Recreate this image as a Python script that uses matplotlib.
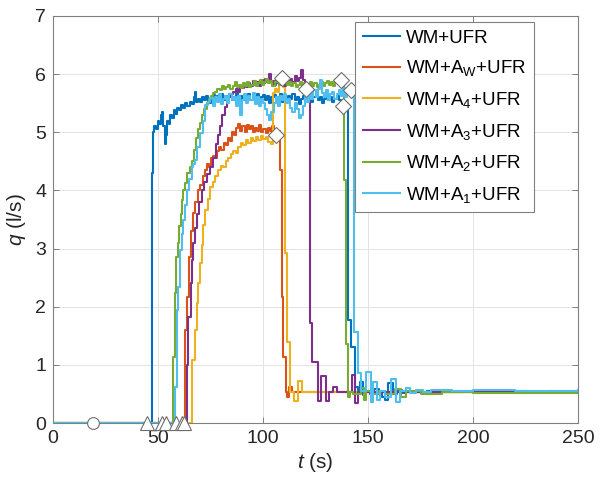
import matplotlib
matplotlib.use("Agg")
import matplotlib.pyplot as plt

plt.rcParams["font.family"] = ["Liberation Sans", "DejaVu Sans"]
plt.rcParams["mathtext.fontset"] = "custom"
plt.rcParams["mathtext.rm"] = "Liberation Sans"
plt.rcParams["mathtext.it"] = "Liberation Sans:italic"

# -------------------------
# flow traces q(t), one per configuration
# -------------------------

labels = ["WM+UFR", r"WM+A$_\mathrm{W}$+UFR", r"WM+A$_\mathrm{4}$+UFR",
          r"WM+A$_\mathrm{3}$+UFR", r"WM+A$_\mathrm{2}$+UFR", r"WM+A$_\mathrm{1}$+UFR"]
colors = ["#0072BD", "#D95319", "#EDB120", "#7E2F8E", "#77AC30", "#4DBEEE"]

t_wm = [0, 47.0, 47.5, 48.2, 49.0, 49.8, 50.6, 51.3, 52.0, 52.6, 53.1, 53.7, 54.3, 55.0, 55.8,
        56.6, 57.4, 58.2, 59, 60, 61, 62, 63, 64, 65, 66, 67, 67.6, 68.2, 69, 70, 71, 72, 73,
        74, 75, 76, 77, 78, 79, 80, 81, 82, 83, 84, 85, 86, 87, 88, 89, 90, 91, 92, 93, 94, 95,
        96, 97, 98, 99, 100, 101, 102, 103, 104, 105, 106, 107, 108, 109, 110, 111, 112, 113,
        114, 115, 116, 117, 118, 119, 120, 121, 122, 123, 124, 125, 126, 127, 128, 129, 130,
        131, 132, 133, 134, 135, 136, 137, 138, 139, 140, 140.6, 141.8, 144.0, 145.0, 146.2,
        147.6, 149, 151, 153, 155, 156.5, 158, 159.5, 162, 164, 166, 168, 172, 178, 185, 195,
        205, 215, 225, 235, 250]
q_wm = [0, 4.3, 5.0, 5.1, 5.05, 5.2, 5.15, 5.3, 5.35, 5.1, 4.8, 4.95, 5.2, 5.15, 5.3,
        5.25, 5.38, 5.32, 5.42, 5.38, 5.47, 5.42, 5.5, 5.45, 5.52, 5.48, 5.6, 5.7, 5.52, 5.58,
        5.52, 5.6, 5.55, 5.62, 5.5, 5.58, 5.64, 5.55, 5.62, 5.58, 5.66, 5.56, 5.62, 5.58, 5.65,
        5.55, 5.6, 5.68, 5.57, 5.62, 5.55, 5.63, 5.6, 5.66, 5.56, 5.62, 5.58, 5.65, 5.55, 5.6,
        5.64, 5.56, 5.62, 5.5, 5.6, 5.64, 5.55, 5.6, 5.66, 5.52, 5.6, 5.56, 5.63, 5.58, 5.65,
        5.55, 5.6, 5.48, 5.58, 5.62, 5.55, 5.64, 5.58, 5.52, 5.6, 5.65, 5.55, 5.6, 5.5, 5.58,
        5.63, 5.55, 5.6, 5.52, 5.58, 5.62, 5.55, 5.48, 5.45, 5.5, 5.42, 1.77, 1.31, 0.62, 0.5,
        0.70, 0.48, 0.55, 0.5, 0.58, 0.52, 0.45, 0.40, 0.69, 0.5, 0.56, 0.52, 0.55, 0.53, 0.55,
        0.54, 0.55, 0.54, 0.55, 0.54, 0.55, 0.55]

t_aw = [0, 62.9, 64.0, 64.8, 65.8, 66.8, 67.8, 69.2, 70.2, 71.2, 72.2, 73.2, 74.2, 75.2, 76.2,
        77.2, 78.2, 79.2, 80.2, 81.2, 82.2, 83.2, 84.2, 85.2, 86.2, 87.2, 88.2, 89.2, 90.2, 91.2,
        92.2, 93.2, 94.2, 95.2, 96.2, 97.2, 98.2, 99.2, 100.2, 101.2, 102.2, 103.2, 104.2, 105.2,
        106.2, 107.2, 108.3, 108.9, 109.7, 111.0, 111.6, 112.4, 113.6, 120, 140, 160, 200, 250]
q_aw = [0, 1.6, 2.17, 2.86, 3.3, 3.61, 3.8, 4.0, 4.1, 4.25, 4.35, 4.45, 4.4, 4.55, 4.6,
        4.55, 4.68, 4.75, 4.7, 4.82, 4.78, 4.9, 4.85, 5.0, 4.95, 5.08, 5.15, 5.02, 5.1, 5.0,
        5.12, 5.05, 5.1, 5.0, 5.08, 5.02, 5.12, 5.0, 5.06, 4.98, 5.08, 5.02, 5.1, 4.98,
        4.95, 5.02, 4.35, 2.17, 1.14, 0.54, 0.45, 0.62, 0.53, 0.53, 0.54, 0.53, 0.54, 0.54]

t_a4 = [0, 66.0, 67.6, 68.4, 69.2, 70.0, 70.8, 71.6, 72.4, 73.6, 74.8, 76.0, 77.2, 78.6, 79.8,
        81.0, 82.2, 83.4, 84.6, 85.8, 87.0, 88.2, 89.4, 90.6, 91.8, 93.0, 94.2, 95.4, 96.6, 97.8,
        99.0, 100.2, 101.4, 102.6, 103.8, 104.6, 105.6, 106.6, 107.6, 108.6, 109.4, 110.5, 111.3,
        112.9, 114.6, 116.7, 118.4, 130, 160, 200, 250]
q_a4 = [0, 1.08, 1.6, 2.06, 2.4, 2.75, 3.06, 3.4, 3.66, 3.85, 4.06, 4.15, 4.25, 4.35, 4.42,
        4.4, 4.5, 4.55, 4.62, 4.68, 4.65, 4.75, 4.82, 4.78, 4.86, 4.82, 4.9, 4.85, 4.92, 4.86,
        4.94, 4.88, 4.92, 4.84, 4.8, 5.67, 5.75, 5.7, 5.82, 5.93, 5.78, 2.92, 1.40,
        0.53, 0.37, 0.72, 0.53, 0.54, 0.53, 0.54, 0.54]

t_a3 = [0, 63.8, 64.4, 65.5, 66.2, 66.8, 67.6, 68.4, 69.6, 70.8, 72.0, 73.2, 74.8, 76.3, 77.5,
        78.5, 79.5, 80.7, 81.9, 82.7, 83.5, 84.7, 85.9, 87, 88, 89, 90, 91, 92, 93, 94, 95, 96,
        97, 98, 99, 100, 101, 102, 103, 104, 105, 106, 107, 108, 109, 110, 111, 112, 113, 114,
        115, 116, 117, 118, 119, 120, 120.5, 121.3, 122.6, 123.4, 126.3, 127.5, 130.2, 131.4,
        133.3, 135, 142.2, 144.0, 145, 160, 200, 250]
q_a3 = [0, 1.0, 1.83, 2.41, 2.8, 3.1, 3.35, 3.6, 3.8, 4.0, 4.15, 4.28, 4.41, 4.55, 4.8,
        4.95, 5.1, 5.3, 5.44, 5.52, 5.61, 5.65, 5.7, 5.75, 5.7, 5.8, 5.76, 5.82, 5.78, 5.85,
        5.8, 5.88, 5.82, 5.86, 5.8, 5.9, 5.84, 5.92, 5.86, 6.0, 5.88, 5.82, 5.9, 5.85, 5.92,
        5.86, 5.8, 5.88, 5.84, 5.92, 5.86, 5.96, 5.88, 5.94, 6.07, 5.9, 5.8, 5.74, 5.82, 1.72,
        1.05, 0.37, 0.8, 0.38, 0.53, 0.62, 0.53, 0.83, 0.34, 0.53, 0.54, 0.53, 0.54]

t_a2 = [0, 57.0, 58.0, 58.8, 59.6, 60.2, 60.8, 61.3, 62.1, 62.9, 64.0, 65.2, 66.0, 67.0, 68.0,
        69.0, 70.0, 71.0, 72.0, 73.2, 74.2, 75.2, 76.2, 77.1, 78.2, 79.5, 80.5, 81.5, 82.5, 83.5,
        84.5, 85.5, 86.5, 87.5, 88.5, 89.5, 90.5, 91.5, 92.5, 93.5, 94.5, 95.5, 96.5, 97.5, 98.5,
        99.5, 100.5, 101.5, 102.5, 103.5, 104.5, 105.5, 106.5, 107.5, 108.5, 109.5, 110.5, 111.5,
        112.5, 113.5, 114.5, 115.5, 116.5, 117.5, 118.5, 119.5, 120.5, 121.5, 122.5, 123.5,
        124.5, 125.5, 126.5, 127.5, 128.5, 129.5, 130.5, 131.5, 132.5, 133.5, 134.5, 135.5,
        136.5, 137.1, 138.0, 138.6, 139.4, 140.4, 141.2, 143, 146.5, 148, 149.2, 152, 155, 158,
        163, 165.5, 168, 175, 185, 200, 250]
q_a2 = [0, 1.14, 2.23, 2.86, 3.1, 3.38, 3.6, 3.84, 4.0, 4.12, 4.3, 4.41, 4.5, 4.7, 4.9,
        5.05, 5.16, 5.3, 5.4, 5.5, 5.58, 5.62, 5.68, 5.7, 5.75, 5.72, 5.8, 5.74, 5.78, 5.82,
        5.75, 5.8, 5.86, 5.78, 5.82, 5.76, 5.84, 5.8, 5.86, 5.78, 5.82, 5.88, 5.8, 5.85, 5.9,
        5.82, 5.86, 5.92, 5.84, 5.88, 5.8, 5.86, 5.9, 5.82, 5.88, 5.84, 5.9, 5.82,
        5.86, 5.8, 5.84, 5.78, 5.82, 5.86, 5.8, 5.84, 5.78, 5.82, 5.86, 5.8,
        5.84, 5.78, 5.82, 5.86, 5.8, 5.84, 5.88, 5.82, 5.86, 5.8, 5.85, 5.9,
        5.84, 5.9, 5.82, 4.18, 1.36, 0.45, 0.53, 0.5, 0.6, 0.4, 0.55, 0.5, 0.55, 0.5,
        0.58, 0.45, 0.55, 0.5, 0.53, 0.51, 0.51]

t_a1 = [0, 58.1, 58.9, 59.7, 60.5, 61.3, 62.1, 62.9, 63.7, 64.8, 66.0, 66.8, 67.6, 68.8, 70.0,
        71.2, 72.4, 73.6, 74.8, 76, 77, 78, 79, 80, 81, 82, 83, 84, 85, 86, 87, 88, 89, 90, 91,
        92, 93, 94, 95, 96, 97, 98, 99, 100, 101, 102, 103, 104, 105, 106, 107, 108, 109, 110,
        111, 112, 113, 114, 115, 116, 117, 118, 119, 120, 121, 122, 123, 124, 125, 126, 127,
        128, 129, 130, 131, 132, 133, 134, 135, 136, 137, 138, 139, 140, 141, 141.9, 142.6,
        143.3, 145.2, 146.5, 149, 151.4, 152.5, 154.3, 155.8, 158, 161, 163.5, 165, 168, 170,
        173, 176, 180, 190, 200, 220, 250]
q_a1 = [0, 0.62, 1.94, 2.34, 2.98, 3.25, 3.49, 3.75, 4.0, 4.2, 4.41, 4.45, 4.52, 4.75, 4.99,
        5.2, 5.47, 5.52, 5.59, 5.45, 5.6, 5.52, 5.66, 5.48, 5.58, 5.62, 5.5, 5.65, 5.55, 5.6,
        5.45, 5.62, 5.3, 5.55, 5.66, 5.5, 5.62, 5.55, 5.68, 5.48, 5.6, 5.45, 5.58, 5.5, 5.4,
        5.3, 5.21, 5.35, 5.5, 5.6, 5.45, 5.62, 5.55, 5.66, 5.5, 5.58, 5.42, 5.35, 5.5, 5.4,
        5.24, 5.3, 5.45, 5.6, 5.52, 5.68, 5.58, 5.72, 5.6, 5.75, 5.9, 5.68, 5.6, 5.72, 5.55,
        5.65, 5.7, 5.58, 5.66, 5.72, 5.62, 5.76, 5.6, 5.7, 5.65, 5.73, 5.6, 1.57, 0.86, 0.55,
        0.87, 0.36, 0.70, 0.40, 0.55, 0.45, 0.75, 0.36, 0.55, 0.6, 0.52, 0.57, 0.54, 0.57,
        0.55, 0.56, 0.55, 0.56]

# event markers
t_start = 18.9
t_onset = [44.9, 51.8, 53.6, 58.8, 61.6, 62.4]
t_end = [138.1, 106.2, 109.0, 120.5, 137.1, 141.9]
q_end = [5.45, 4.95, 5.93, 5.74, 5.9, 5.73]

series = [(t_wm, q_wm), (t_aw, q_aw), (t_a4, q_a4), (t_a3, q_a3), (t_a2, q_a2), (t_a1, q_a1)]

fig = plt.figure(figsize=(6.01, 4.84), dpi=100)
ax = fig.add_axes([53 / 601, 61 / 484, 525 / 601, 407 / 484])

for (t, q), lab, c in zip(series, labels, colors):
    ax.plot(t, q, drawstyle="steps-post", color=c, lw=1.5, label=lab, zorder=3)

mk = dict(color="none", markerfacecolor="white", markeredgecolor="#6e6e6e",
          markeredgewidth=0.8, zorder=5, clip_on=False)
ax.plot([t_start], [0], marker="o", markersize=8.5, **mk)
ax.plot(t_onset, [0] * len(t_onset), marker="^", markersize=10, linestyle="none", **mk)
ax.plot(t_end, q_end, marker="D", markersize=8.5, linestyle="none", **mk)

ax.set_xlim(0, 250)
ax.set_ylim(0, 7)
ax.set_xticks(range(0, 251, 50))
ax.set_yticks(range(0, 8))
ax.grid(True, color="#e3e3e3", lw=0.7)
ax.set_axisbelow(True)
for s in ax.spines.values():
    s.set_color("#808080")
    s.set_linewidth(0.8)
ax.tick_params(direction="in", length=4, width=0.7, color="#808080", labelsize=14,
               labelcolor="#262626", top=True, right=True, pad=5)

ax.set_xlabel(r"$t$ (s)", fontsize=15, color="#262626", labelpad=3)
ax.set_ylabel(r"$q$ (l/s)", fontsize=15, color="#262626", labelpad=5)

leg = ax.legend(loc="upper right", bbox_to_anchor=(0.916, 0.985), fontsize=13.5,
                frameon=True, fancybox=False, framealpha=1, edgecolor="#808080",
                handlelength=2.0, handletextpad=0.3, labelspacing=0.62, borderpad=0.4,
                borderaxespad=0)
leg.get_frame().set_linewidth(0.8)

fig.savefig("out.png", dpi=100)
